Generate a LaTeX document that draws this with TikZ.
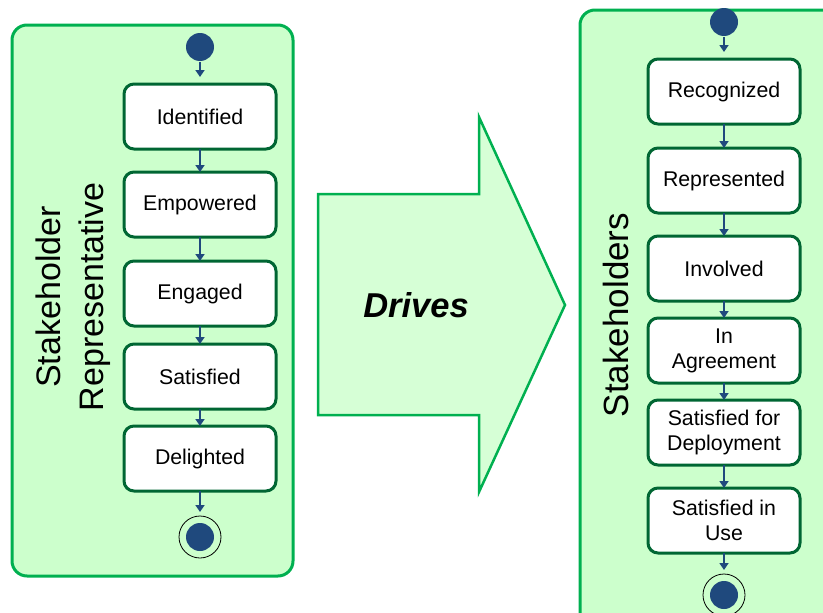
\documentclass[tikz,border=0pt]{standalone}
\usepackage{fontspec}
\setmainfont{Liberation Sans}
\usepackage{xcolor}
\usetikzlibrary{arrows.meta}
\usetikzlibrary{positioning}

\definecolor{panelfill}{RGB}{204,255,204}
\definecolor{panelline}{RGB}{0,176,80}
\definecolor{drivefill}{RGB}{214,255,214}
\definecolor{stateline}{RGB}{0,102,51}
\definecolor{dotblue}{RGB}{31,73,125}

\tikzset{
    panel/.style={draw=panelline, fill=panelfill, line width=3pt, rounded corners=15pt},
    state/.style={draw=stateline, fill=white, line width=3pt, rounded corners=10pt,
        minimum width=152pt, minimum height=65pt, inner sep=2pt, outer sep=0pt,
        align=center, font=\fontsize{21.3}{25}\selectfont},
    startdot/.style={circle, fill=dotblue, minimum size=28pt, inner sep=0pt, outer sep=0pt},
    enddot/.style={circle, draw=black, line width=0.8pt, minimum size=42pt, inner sep=0pt,
        outer sep=0pt, path picture={\fill[dotblue] (path picture bounding box.center) circle (14pt);}},
    flow/.style={draw=dotblue, line width=2pt, -{Triangle[length=7pt,width=9pt]}},
}

\begin{document}
\begin{tikzpicture}[x=1pt, y=-1pt]
    \useasboundingbox (0,0) rectangle (823,613);
    \clip (0,0) rectangle (823,613);

    \draw[panel] (12,25) rectangle (293,576);
    \draw[panel] (580,10) rectangle (845,640);
    \draw[draw=panelline, fill=drivefill, line width=2.5pt, line join=miter]
        (318,194) -- (479,194) -- (479,117) -- (565,305) -- (479,492) -- (479,415) -- (318,415) -- cycle;
    \node[font=\bfseries\itshape\fontsize{34.5}{40}\selectfont] (drv) at (416,305) {Drives};

    \node[rotate=90, align=center, font=\fontsize{34}{43}\selectfont] (rep) at (73,297) {Stakeholder\\Representative};
    \node[rotate=90, font=\fontsize{35}{40}\selectfont] (stk) at (616,315) {Stakeholders};

    \node[state] (a1) at (200,116.5) {Identified};
    \node[state, below=23pt of a1] (a2) {Empowered};
    \node[state, below=24pt of a2] (a3) {Engaged};
    \node[state, below=18pt of a3] (a4) {Satisfied};
    \node[state, below=17pt of a4] (a5) {Delighted};
    \node[startdot, above=23pt of a1] (i0) {};
    \node[enddot, below=25pt of a5] (f0) {};

    \node[state] (b1) at (724,91.5) {Recognized};
    \node[state, below=24pt of b1] (b2) {Represented};
    \node[state, below=23pt of b2] (b3) {Involved};
    \node[state, below=17pt of b3] (b4) {In\\Agreement};
    \node[state, below=17pt of b4] (b5) {Satisfied for\\Deployment};
    \node[state, below=23pt of b5] (b6) {Satisfied in\\Use};
    \node[startdot, above=23pt of b1] (j0) {};
    \node[enddot, below=21pt of b6] (g0) {};

    \draw[flow, shorten <=1pt, shorten >=7pt] (i0) -- (a1);
    \draw[flow] (a1) -- (a2);
    \draw[flow] (a2) -- (a3);
    \draw[flow] (a3) -- (a4);
    \draw[flow] (a4) -- (a5);
    \draw[flow, shorten >=4pt] (a5) -- (f0);

    \draw[flow, shorten <=1pt, shorten >=7pt] (j0) -- (b1);
    \draw[flow] (b1) -- (b2);
    \draw[flow] (b2) -- (b3);
    \draw[flow] (b3) -- (b4);
    \draw[flow] (b4) -- (b5);
    \draw[flow] (b5) -- (b6);
    \draw[flow, shorten >=4pt] (b6) -- (g0);
\end{tikzpicture}
\end{document}
